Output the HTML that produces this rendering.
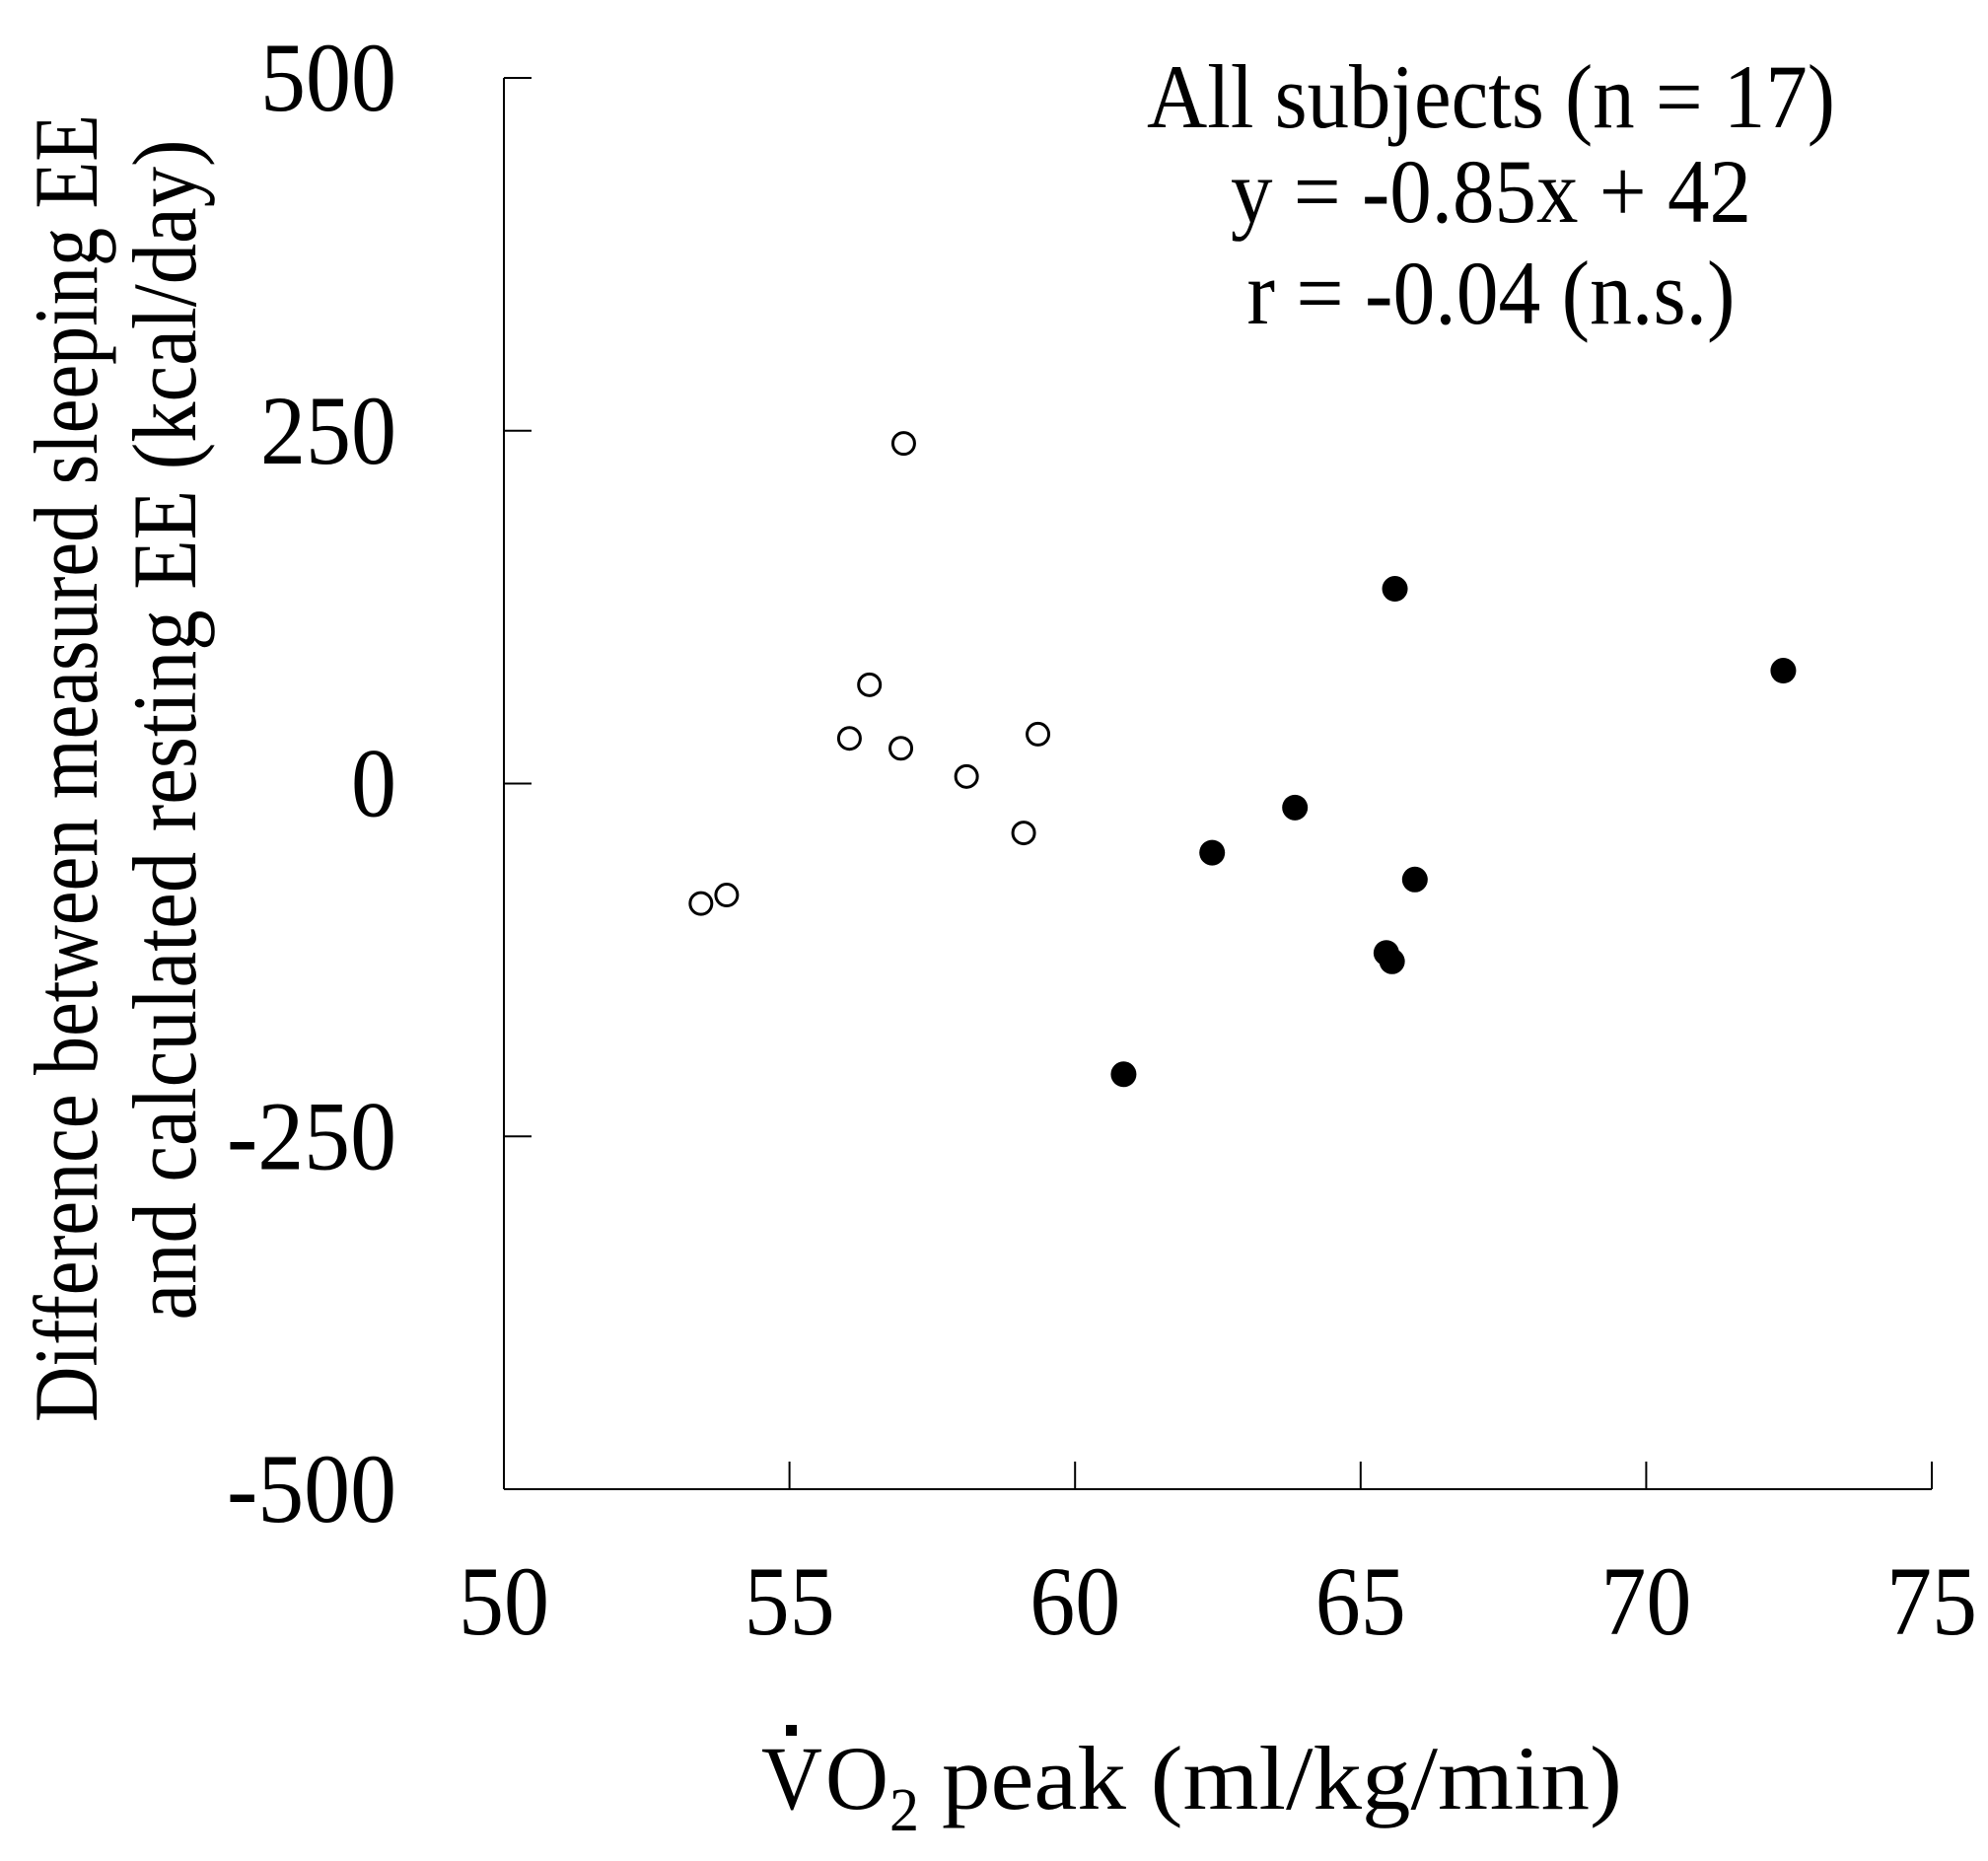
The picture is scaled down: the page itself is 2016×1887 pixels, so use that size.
<!DOCTYPE html>
<html><head><meta charset="utf-8"><style>
html,body{margin:0;padding:0;background:#fff;}
svg{display:block;font-family:"Liberation Serif","Times New Roman",serif;}
</style></head><body>
<svg id="chart" width="2016" height="1887" viewBox="0 0 2016 1887" xmlns="http://www.w3.org/2000/svg">
<g id="axes"></g>
<g id="points"></g>
<g font-size="92" text-anchor="middle">
<text x="1512" y="129" textLength="698" lengthAdjust="spacingAndGlyphs">All subjects (n = 17)</text>
<text x="1512" y="225" textLength="528" lengthAdjust="spacingAndGlyphs">y = -0.85x + 42</text>
<text x="1512" y="328" textLength="495" lengthAdjust="spacingAndGlyphs">r = -0.04 (n.s.)</text>
</g>
<g font-size="92">
<text x="772" y="1834" textLength="62" lengthAdjust="spacingAndGlyphs">V</text>
<text x="837" y="1834" textLength="64" lengthAdjust="spacingAndGlyphs">O</text>
<text x="902" y="1856" font-size="62" textLength="30" lengthAdjust="spacingAndGlyphs">2</text>
<text x="955" y="1834" textLength="690" lengthAdjust="spacingAndGlyphs">peak (ml/kg/min)</text>
<rect x="797" y="1749" width="11" height="11" fill="#000"/>
</g>
<g font-size="92" text-anchor="middle">
<text transform="translate(98,779) rotate(-90)" textLength="1326" lengthAdjust="spacingAndGlyphs">Difference between measured sleeping EE</text>
<text transform="translate(198,740) rotate(-90)" textLength="1197" lengthAdjust="spacingAndGlyphs">and calculated resting EE (kcal/day)</text>
</g>
</svg>
<script>
const xTicks = [50, 55, 60, 65, 70, 75];
const yTicks = [500, 250, 0, -250, -500];
const openX = [53.45, 53.9, 57.0, 56.05, 56.4, 56.95, 58.1, 59.35, 59.1];
const openY = [-85, -79, 241, 32, 70, 25, 5, 35, -35];
const filledX = [65.6, 72.4, 63.85, 62.4, 65.95, 65.45, 65.55, 60.85];
const filledY = [138, 80, -17, -49, -68, -120, -126, -206];

const NS = "http://www.w3.org/2000/svg";
const L = 511, R = 1959, T = 79, B = 1510;
const xMin = 50, xMax = 75, yMin = -500, yMax = 500;
function sx(v){ return L + (v - xMin) / (xMax - xMin) * (R - L); }
function sy(v){ return B - (v - yMin) / (yMax - yMin) * (B - T); }
function labW(t){ let w = 0; for (const c of String(t)) w += (c === '-') ? 34 : 46; return w; }
function mk(tag, attrs, parent){
  const e = document.createElementNS(NS, tag);
  for (const k in attrs) e.setAttribute(k, attrs[k]);
  parent.appendChild(e); return e;
}
const axes = document.getElementById('axes');
let e = mk('line', {x1:L, y1:T, x2:L, y2:B, stroke:'#000', 'stroke-width':2}, axes);


e = mk('line', {x1:L, y1:B, x2:R, y2:B, stroke:'#000', 'stroke-width':2}, axes);


xTicks.forEach(t => {
  const x = sx(t);
  let l = mk('line', {x1:x, y1:B, x2:x, y2:B-28, stroke:'#000', 'stroke-width':2}, axes);
  
  
  let tx = mk('text', {x:x, y:1657, 'font-size':100, 'text-anchor':'middle', textLength:labW(t), lengthAdjust:'spacingAndGlyphs'}, axes);
  tx.textContent = t;
  
  
});
yTicks.forEach(t => {
  const y = sy(t);
  let l = mk('line', {x1:L, y1:y, x2:L+28, y2:y, stroke:'#000', 'stroke-width':2}, axes);
  
  
  let tx = mk('text', {x:402, y:y+33, 'font-size':100, 'text-anchor':'end', textLength:labW(t), lengthAdjust:'spacingAndGlyphs'}, axes);
  tx.textContent = t;
  
  
});
const pts = document.getElementById('points');
openX.forEach((v, i) => {
  const c = mk('circle', {cx:sx(v), cy:sy(openY[i]), r:11, fill:'#fff', stroke:'#000', 'stroke-width':3}, pts);
  
  
});
filledX.forEach((v, i) => {
  const c = mk('circle', {cx:sx(v), cy:sy(filledY[i]), r:13, fill:'#000'}, pts);
  
  
});
</script>
</body></html>
